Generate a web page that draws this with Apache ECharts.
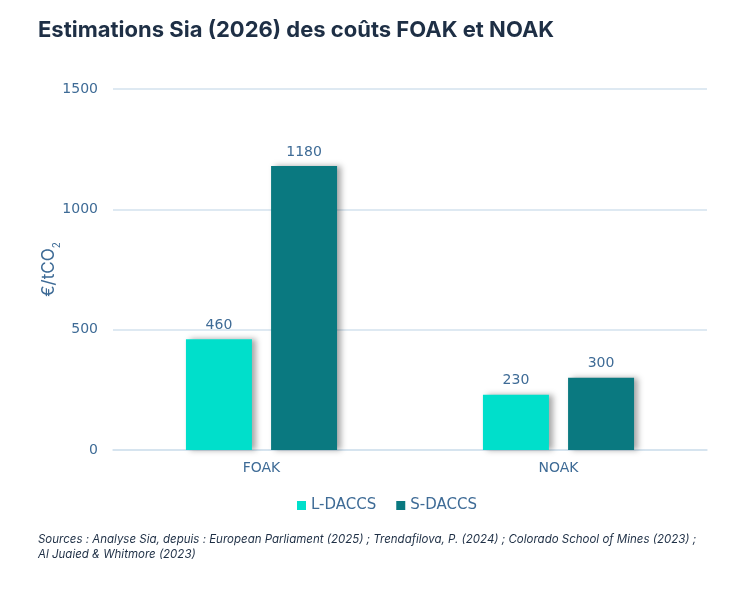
<!DOCTYPE html>
<html>
<head>
<meta charset="utf-8">
<script src="https://cdn.jsdelivr.net/npm/echarts@6/dist/echarts.min.js"></script>
<style>
  html, body { margin: 0; padding: 0; background: #fff; }
  #chart { width: 730px; height: 604px; }
</style>
</head>
<body>
<div id="chart"></div>
<script>
  const categories = ['FOAK', 'NOAK']
  const lDaccs = [460, 230]
  const sDaccs = [1180, 300]
  const yTicks = [0, 500, 1000, 1500]

  const labelColor = '#3e6b96'
  const gridColor = '#d3e2ee'
  const font = 'Inter, "Open Sans", sans-serif'
  const wideFont = '"DejaVu Sans", sans-serif'

  const barShadow = {
    shadowColor: 'rgba(0,0,0,0.35)',
    shadowBlur: 6,
    shadowOffsetX: 4,
    shadowOffsetY: 0,
  }

  const chart = echarts.init(document.getElementById('chart'))
  chart.setOption({
    animation: false,
    title: {
      text: 'Estimations Sia (2026) des coûts FOAK et NOAK',
      left: 33,
      top: 14,
      textStyle: { color: '#1e2f45', fontSize: 22, fontWeight: 'bold', fontFamily: font },
    },
    grid: { left: 113, right: 23, top: 89, bottom: 154 },
    legend: {
      left: 292,
      top: 493,
      itemWidth: 9,
      itemHeight: 9,
      itemGap: 20,
      icon: 'rect',
      textStyle: { color: labelColor, fontSize: 15, fontFamily: wideFont },
      data: ['L-DACCS', 'S-DACCS'],
    },
    xAxis: {
      type: 'category',
      data: categories,
      axisTick: { show: false },
      axisLine: { lineStyle: { color: gridColor, width: 1.5 } },
      axisLabel: { color: labelColor, fontSize: 14, margin: 11, fontFamily: wideFont },
    },
    yAxis: {
      type: 'value',
      min: yTicks[0],
      max: yTicks[yTicks.length - 1],
      interval: 500,
      name: '{a|€/tCO}{b|2}',
      nameLocation: 'middle',
      nameGap: 56,
      nameMoveOverlap: false,
      nameRotate: 90,
      nameTextStyle: {
        rich: {
          a: { color: labelColor, fontSize: 17, fontFamily: font },
          b: { color: labelColor, fontSize: 10, fontFamily: font, verticalAlign: 'bottom', padding: [0, 0, -5, 0] },
        },
      },
      axisLabel: {
        color: labelColor,
        fontSize: 14,
        margin: 15,
        fontFamily: wideFont,
        formatter: (v) => String(v),
      },
      splitLine: { lineStyle: { color: gridColor, width: 1.5 } },
    },
    series: [
      {
        name: 'L-DACCS',
        type: 'bar',
        data: lDaccs,
        barWidth: 66,
        barGap: '29%',
        itemStyle: Object.assign({ color: '#00dfcb' }, barShadow),
        label: { show: true, position: 'top', distance: 7, color: labelColor, fontSize: 14, fontFamily: wideFont },
      },
      {
        name: 'S-DACCS',
        type: 'bar',
        data: sDaccs,
        barWidth: 66,
        itemStyle: Object.assign({ color: '#0a7980' }, barShadow),
        label: { show: true, position: 'top', distance: 7, color: labelColor, fontSize: 14, fontFamily: wideFont },
      },
    ],
    graphic: [
      {
        type: 'text',
        left: 38,
        top: 532,
        style: {
          text: 'Sources : Analyse Sia, depuis : European Parliament (2025) ; Trendafilova, P. (2024) ; Colorado School of Mines (2023) ;\nAl Juaied & Whitmore (2023)',
          fill: '#1e2f45',
          font: 'italic 11.5px ' + font,
          lineHeight: 15,
        },
      },
    ],
  })
</script>
</body>
</html>
